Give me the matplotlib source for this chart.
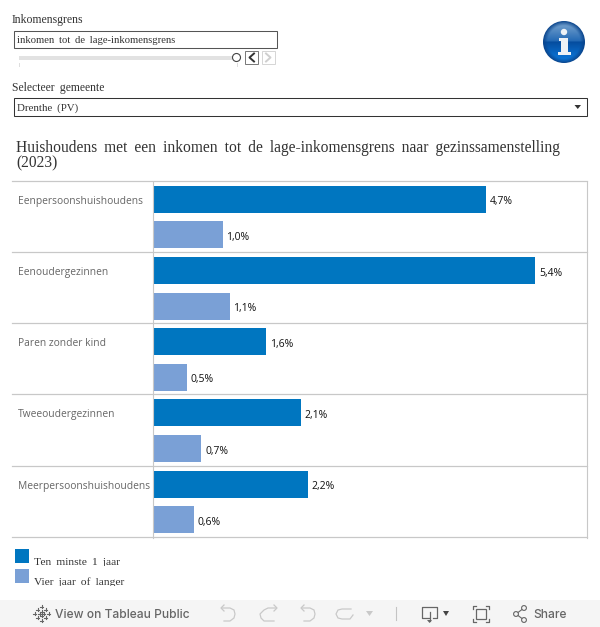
import numpy as np
import matplotlib
matplotlib.use('Agg')
from matplotlib import pyplot as plt
from matplotlib.patches import Rectangle, Circle, Polygon

# data
categories = ['Eenpersoonshuishoudens', 'Eenoudergezinnen', 'Paren zonder kind',
              'Tweeoudergezinnen', 'Meerpersoonshuishoudens']
ten_minste = [4.70, 5.40, 1.60, 2.09, 2.19]
vier_jaar = [0.99, 1.09, 0.49, 0.69, 0.59]
labels_1 = ['4,7%', '5,4%', '1,6%', '2,1%', '2,2%']
labels_4 = ['1,0%', '1,1%', '0,5%', '0,7%', '0,6%']
series_names = ['Ten minste 1 jaar', 'Vier jaar of langer']

blue = '#0076c0'
light = '#7aa0d6'
grid = '#c8c8c8'
serif = 'Liberation Serif'
sans = 'Open Sans'


def wide(s):
    # Tableau zet de woorden in deze titels verder uit elkaar
    return s.replace(' ', ' \u2009')


fig = plt.figure(figsize=(6, 6.27), dpi=100)

# achtergrond in pixels
bg = fig.add_axes([0, 0, 1, 1])
bg.set_xlim(0, 600)
bg.set_ylim(627, 0)
bg.axis('off')

# inkomensgrens
bg.text(12, 19.5, 'Inkomensgrens', family=serif, fontsize=8.5, color='#333333', va='center')
bg.add_patch(Rectangle((13.5, 30.5), 263, 17, fc='white', ec='#555555', lw=0.75))
bg.text(17, 40.5, wide('inkomen tot de lage-inkomensgrens'), family=serif, fontsize=7.7, color='#333333', va='center')
bg.add_patch(Rectangle((19, 56), 213, 4, fc='#e2e2e2', ec='none'))
bg.add_patch(Circle((236.5, 57.5), 4, fc='white', ec='#444444', lw=0.8, zorder=3))
bg.plot([19, 19], [63, 66], color='#dddddd', lw=0.7)
bg.plot([236.5, 236.5], [63, 66], color='#dddddd', lw=0.7)
bg.add_patch(Rectangle((245, 51), 13, 13, fc='white', ec='#777777', lw=0.7))
bg.plot([254, 249.5, 254], [53.5, 57.5, 61.5], color='#333333', lw=1.4)
bg.add_patch(Rectangle((262, 51), 13, 13, fc='white', ec='#d5d5d5', lw=0.7))
bg.plot([266, 270.5, 266], [53.5, 57.5, 61.5], color='#cfcfcf', lw=1.4)

# gemeente
bg.text(12, 87.5, wide('Selecteer gemeente'), family=serif, fontsize=8.4, color='#333333', va='center')
bg.add_patch(Rectangle((13.5, 97.5), 573, 18, fc='white', ec='#333333', lw=0.75))
bg.text(17, 108, wide('Drenthe (PV)'), family=serif, fontsize=7.8, color='#333333', va='center')
bg.add_patch(Polygon([[574.5, 105], [581, 105], [577.75, 109]], fc='#333333', ec='none'))

# info icoon
yy, xx = np.mgrid[-1:1:160j, -1:1:160j]
rr = np.hypot(xx, yy)
top = np.array([0.50, 0.66, 0.82])
mid = np.array([0.12, 0.40, 0.70])
low = np.array([0.02, 0.30, 0.62])
glow = np.array([0.05, 0.50, 0.90])
t_top = np.clip((yy + 1) / 1.0, 0, 1)[..., None]
t_low = np.clip(yy, 0, 1)[..., None]
rgb = np.where(yy[..., None] < -0.02, top * (1 - t_top) + mid * t_top, low * (1 - t_low) + glow * t_low)
edge = np.clip((rr - 0.78) / 0.22, 0, 1)[..., None]
rgb = rgb * (1 - edge) + np.array([0.04, 0.27, 0.55]) * edge
im = bg.imshow(rgb, extent=(543, 585, 63, 21), aspect='auto', zorder=2)
im.set_clip_path(Circle((564, 42), 21, transform=bg.transData))
bg.set_xlim(0, 600)
bg.set_ylim(627, 0)
bg.add_patch(Circle((564, 32), 3.2, fc='#eef2f6', ec='none', zorder=3))
bg.add_patch(Polygon([[559, 37.5], [568, 37.5], [568, 52], [570.5, 52], [570.5, 55], [557.5, 55],
                      [557.5, 52], [561, 52], [561, 40.5], [559, 40.5]], fc='#eef2f6', ec='none', zorder=3))

# titel
bg.text(16, 147.5, wide('Huishoudens met een inkomen tot de lage-inkomensgrens naar gezinssamenstelling'),
        family=serif, fontsize=11.2, color='#333333', va='center')
bg.text(16, 163.5, '(2023)', family=serif, fontsize=11.2, color='#333333', va='center')

# grafiek
ax = fig.add_axes([152.5 / 600, 1 - 537.5 / 627, 434.5 / 600, 356 / 627])
ax.patch.set_alpha(0)
pos_1 = np.arange(5) * 2 + 0.5
pos_4 = np.arange(5) * 2 + 1.5
ax.barh(pos_1, ten_minste, height=0.76, color=blue)
ax.barh(pos_4, vier_jaar, height=0.76, color=light)
for y, v, s in zip(pos_1, ten_minste, labels_1):
    ax.annotate(s, (v, y), xytext=(2.6, -1.9), textcoords='offset points', va='center', fontsize=7.5, family=sans, color='#111111')
for y, v, s in zip(pos_4, vier_jaar, labels_4):
    ax.annotate(s, (v, y), xytext=(2.6, -1.9), textcoords='offset points', va='center', fontsize=7.5, family=sans, color='#111111')
ax.set_xlim(0, 434.5 / 70.9)
ax.set_ylim(10, 0)
ax.set_xticks([])
ax.set_yticks([])
for s in ax.spines.values():
    s.set_visible(False)
ax.spines['left'].set_visible(True)
ax.spines['right'].set_visible(True)
ax.spines['left'].set_color(grid)
ax.spines['right'].set_color(grid)

# rijlijnen en categorienamen
for i in range(6):
    bg.plot([12, 587], [180.7 + i * 71.2] * 2, color=grid, lw=0.9, zorder=1)
for i, c in enumerate(categories):
    bg.text(18, 201.3 + i * 71.2, c, family=sans, fontsize=7.4, color='#666666', va='center')

# legenda
bg.add_patch(Rectangle((15, 549), 14, 14, fc=blue, ec='none'))
bg.add_patch(Rectangle((15, 569), 14, 14, fc=light, ec='none'))
t1 = bg.text(34, 565, wide(series_names[0]), family=serif, fontsize=8.25, color='#333333', va='baseline')
t1.set_clip_path(Rectangle((0, 540), 600, 25.5, transform=bg.transData))
t1.set_clip_on(True)
t2 = bg.text(34, 585, wide(series_names[1]), family=serif, fontsize=8.25, color='#333333', va='baseline')
t2.set_clip_path(Rectangle((0, 570), 600, 15.5, transform=bg.transData))
t2.set_clip_on(True)

# werkbalk
bg.add_patch(Rectangle((0, 600), 600, 27, fc='#f5f5f5', ec='none'))
tool = '#666666'
off = '#c9c9c9'
for dx, dy in [(-7, 0), (7, 0), (0, -7), (0, 7), (-4, -4), (4, -4), (-4, 4), (4, 4), (-2, 0), (2, 0), (0, -2), (0, 2)]:
    bg.plot([41.5 + dx - 1.5, 41.5 + dx + 1.5], [613.5 + dy] * 2, color=tool, lw=0.8)
    bg.plot([41.5 + dx] * 2, [613.5 + dy - 1.5, 613.5 + dy + 1.5], color=tool, lw=0.8)
bg.text(55, 615, 'View on Tableau Public', family='Inter', fontsize=8.65, color='#666666', va='center', weight='medium')
# ongedaan / opnieuw
bg.plot([222, 230, 234, 235, 234, 230, 224], [608, 608, 610, 614, 618, 621, 621], color=off, lw=0.9)
bg.plot([224, 221, 224], [605, 608, 611], color=off, lw=0.9)
bg.plot([276, 268, 264, 260, 261, 264, 274], [608, 608, 610, 614, 618, 621, 621], color=off, lw=0.9)
bg.plot([274, 277, 274], [605, 608, 611], color=off, lw=0.9)
bg.plot([302, 310, 314, 315, 314, 310, 304], [608, 608, 610, 614, 618, 621, 621], color=off, lw=0.9)
bg.plot([304, 301, 304], [605, 608, 611], color=off, lw=0.9)
bg.plot([351, 342, 338, 336, 338, 342, 350, 353], [609, 609, 610, 614, 618, 619, 619, 615], color=off, lw=0.9)
bg.add_patch(Polygon([[366, 611], [373, 611], [369.5, 616]], fc=off, ec='none'))
bg.plot([395.5, 395.5], [607, 620], color='#c4c4c4', lw=0.8)
# download
bg.plot([429, 422, 422, 437, 437, 433], [618, 618, 607, 607, 618, 618], color=tool, lw=0.9)
bg.plot([429.5, 429.5], [612, 621], color=tool, lw=0.9)
bg.add_patch(Polygon([[427, 620], [432, 620], [429.5, 623]], fc=tool, ec='none'))
bg.add_patch(Polygon([[443, 611], [449, 611], [446, 616]], fc='#444444', ec='none'))
# volledig scherm
bg.add_patch(Rectangle((476, 609), 10, 10, fc='none', ec=tool, lw=0.9))
for x, y, ddx, ddy in [(473, 606, 1, 1), (489, 606, -1, 1), (473, 622, 1, -1), (489, 622, -1, -1)]:
    bg.plot([x + 3 * ddx, x, x], [y, y, y + 3 * ddy], color=tool, lw=0.9)
# delen
bg.plot([524, 516, 524], [608, 614, 620], color=tool, lw=0.8)
for x, y in [(524, 608), (516, 614), (524, 620)]:
    bg.add_patch(Circle((x, y), 2.4, fc='#f5f5f5', ec=tool, lw=0.8, zorder=3))
bg.text(533, 615, 'Share', family='Inter', fontsize=8.65, color='#666666', va='center', weight='medium')

fig.savefig('out.png', dpi=100)
